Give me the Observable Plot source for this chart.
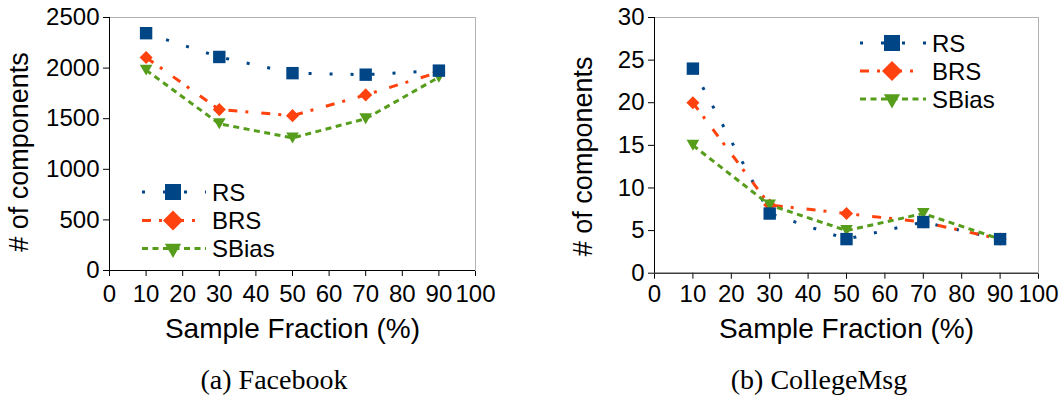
<!DOCTYPE html>
<html><head><meta charset="utf-8">
<script src="https://cdn.jsdelivr.net/npm/d3@7"></script>
<script src="https://cdn.jsdelivr.net/npm/@observablehq/plot@0.6"></script>
<style>
body{margin:0;background:#fff;}
#wrap{position:relative;width:1064px;height:401px;overflow:hidden;font-family:"Liberation Sans",Arial,sans-serif;}
.panel{position:absolute;top:0;}
#overlay{position:absolute;left:0;top:0;pointer-events:none;}
</style></head><body>
<div id="wrap">
  <div class="panel" id="p1" style="left:0"></div>
  <div class="panel" id="p2" style="left:532px"></div>
  <svg id="overlay" width="1064" height="401"></svg>
</div>
<script>
// ---- data ----
const sampleFraction = [10, 30, 50, 70, 90];
const xTicks = [0, 10, 20, 30, 40, 50, 60, 70, 80, 90, 100];
const seriesNames = ["RS", "BRS", "SBias"];
const facebookRS    = [2345, 2110, 1950, 1935, 1975];
const facebookBRS   = [2105, 1590, 1530, 1735, 1960];
const facebookSBias = [1980, 1450, 1310, 1500, 1910];
const collegeRS     = [24, 7, 4, 6, 4];
const collegeBRS    = [20, 8, 7, 6, 4];
const collegeSBias  = [15, 8, 5, 7, 4];
const yTicksFacebook = [0, 500, 1000, 1500, 2000, 2500];
const yTicksCollege  = [0, 5, 10, 15, 20, 25, 30];
const xTitle = "Sample Fraction (%)";
const yTitle = "# of components";
const captions = ["(a) Facebook", "(b) CollegeMsg"];

// ---- styles ----
const seriesColors = ["#004586", "#ff420e", "#579d1c"];
const seriesDash = ["3 18", "9 8 3 13", "6 4.5"];
const FONT = "'Liberation Sans', Arial, sans-serif";

const triangleDown = {
  draw(context, size) {
    const s = Math.sqrt(4 * size / Math.sqrt(3));
    const h = s * Math.sqrt(3) / 2;
    context.moveTo(-s / 2, -h / 2);
    context.lineTo(s / 2, -h / 2);
    context.lineTo(0, h / 2);
    context.closePath();
  }
};
const plotSymbols = [d3.symbolSquare, d3.symbolDiamond2, triangleDown];
const plotRadius = [7.0, 5.9, 4.7];

function toRows(values) {
  return seriesNames.flatMap((s, k) => sampleFraction.map((x, i) => ({x, y: values[k][i], s})));
}

function panel(o) {
  const marks = [
    Plot.frame({stroke: "#b3b3b3", strokeWidth: 1}),
    Plot.ruleX([0], {stroke: "#000", strokeWidth: 1}),
    Plot.ruleY([0], {stroke: "#000", strokeWidth: 1})
  ];
  seriesNames.forEach((s, k) => {
    marks.push(Plot.line(o.rows.filter(r => r.s === s), {
      x: "x", y: "y", stroke: seriesColors[k], strokeWidth: 3,
      strokeDasharray: seriesDash[k], strokeLinecap: "butt", strokeLinejoin: "round"
    }));
  });
  [1, 2, 0].forEach(k => {
    marks.push(Plot.dot(o.rows.filter(r => r.s === seriesNames[k]), {
      x: "x", y: "y", symbol: plotSymbols[k], r: plotRadius[k], fill: seriesColors[k], stroke: "none"
    }));
  });
  marks.push(Plot.text([xTitle], {text: d => d, frameAnchor: "bottom", textAnchor: "middle", lineAnchor: "bottom", dy: o.xTitleDy, fontSize: 28, fill: "#000"}));
  marks.push(Plot.text([yTitle], {text: d => d, frameAnchor: "left", textAnchor: "middle", rotate: -90, lineAnchor: "bottom", dx: o.yTitleDx, dy: o.yTitleDy, fontSize: 27, fill: "#000"}));
  return Plot.plot({
    width: o.width, height: o.height,
    marginLeft: o.ml, marginRight: o.mr, marginTop: o.mt, marginBottom: o.mb,
    x: {domain: [0, 100], ticks: xTicks, tickSize: 6, tickPadding: o.tickPadX, tickFormat: d => String(d), label: null, line: false},
    y: {domain: o.yDomain, ticks: o.yTicks, tickSize: 6, tickPadding: 4, tickFormat: d => String(d), label: null, line: false},
    style: {fontFamily: FONT, fontSize: "24px", color: "#000", background: "transparent", overflow: "visible"},
    marks
  });
}

document.getElementById("p1").appendChild(panel({
  rows: toRows([facebookRS, facebookBRS, facebookSBias]),
  yDomain: [0, 2500], yTicks: yTicksFacebook,
  width: 532, height: 350, ml: 109, mr: 57, mt: 17, mb: 80,
  tickPadX: 8.5, xTitleDy: 67, yTitleDx: -81.5, yTitleDy: 8
}));
document.getElementById("p2").appendChild(panel({
  rows: toRows([collegeRS, collegeBRS, collegeSBias]),
  yDomain: [0, 30], yTicks: yTicksCollege,
  width: 532, height: 350, ml: 122, mr: 26, mt: 17, mb: 77.3,
  tickPadX: 6, xTitleDy: 64.3, yTitleDx: -63, yTitleDy: 11
}));

// ---- legends and captions (overlay) ----
const ov = d3.select("#overlay");
const legendSymbols = [d3.symbolSquare, d3.symbolDiamond2, d3.symbolTriangle];
const legendSizes = [256, 255, 115];
const legends = [
  {x0: 142, x1: 206, xm: 173, xt: 212, rows: [192, 220.5, 248.5]},
  {x0: 860, x1: 926, xm: 892, xt: 932, rows: [43, 71, 99]}
];
legends.forEach(L => {
  seriesNames.forEach((s, k) => {
    const y = L.rows[k];
    ov.append("line").attr("x1", L.x0).attr("x2", L.x1).attr("y1", y).attr("y2", y)
      .attr("stroke", seriesColors[k]).attr("stroke-width", 3).attr("stroke-dasharray", seriesDash[k]);
    ov.append("path").attr("d", d3.symbol(legendSymbols[k], legendSizes[k])())
      .attr("transform", `translate(${L.xm},${y})` + (k === 2 ? " rotate(180)" : ""))
      .attr("fill", seriesColors[k]);
    ov.append("text").attr("x", L.xt).attr("y", y + 8.5).text(s)
      .attr("font-family", FONT).attr("font-size", 24).attr("fill", "#000");
  });
});
const capX = [274, 819];
captions.forEach((c, i) => {
  ov.append("text").attr("x", capX[i]).attr("y", 389).attr("text-anchor", "middle")
    .attr("font-family", "'Liberation Serif', 'Times New Roman', serif").attr("font-size", 28)
    .attr("fill", "#000").text(c);
});
</script>
</body></html>
